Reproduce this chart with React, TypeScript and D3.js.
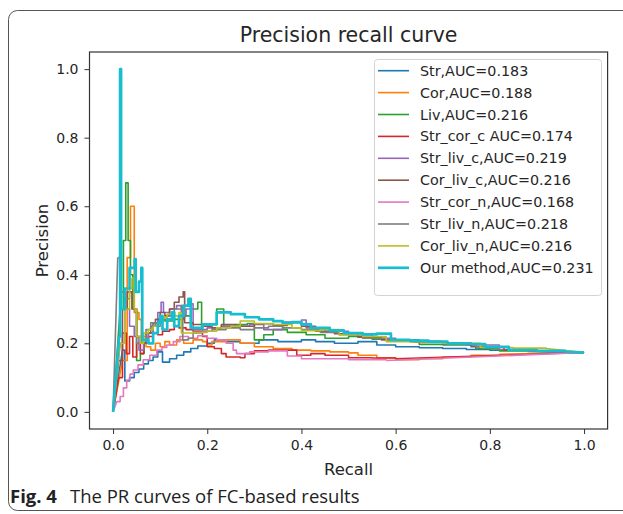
import React, { useEffect, useRef } from "react";
import * as d3 from "d3";

// legend labels and colours (matplotlib tab10)
const labels = [
  "Str,AUC=0.183",
  "Cor,AUC=0.188",
  "Liv,AUC=0.216",
  "Str_cor_c AUC=0.174",
  "Str_liv_c,AUC=0.219",
  "Cor_liv_c,AUC=0.216",
  "Str_cor_n,AUC=0.168",
  "Str_liv_n,AUC=0.218",
  "Cor_liv_n,AUC=0.216",
  "Our method,AUC=0.231",
];
const colors = ["#1f77b4", "#ff7f0e", "#2ca02c", "#d62728", "#9467bd", "#8c564b", "#e377c2", "#7f7f7f", "#bcbd22", "#17becf"];

const xTicks = [0, 0.2, 0.4, 0.6, 0.8, 1.0];
const yTicks = [0, 0.2, 0.4, 0.6, 0.8, 1.0];

// every curve starts at (0,0) and ends at (1, 0.173)
const startPt = [0, 0];
const endPt = [1.0, 0.173];

// [recall, precision] step points
const str = [[0.02,0.18],[0.025,0.09],[0.035,0.1],[0.045,0.115],[0.055,0.125],[0.065,0.14],[0.075,0.15],[0.085,0.16],[0.095,0.175],[0.105,0.145],[0.12,0.155],[0.135,0.165],[0.15,0.175],[0.165,0.185],[0.18,0.192],[0.2,0.2],[0.215,0.21],[0.24,0.205],[0.27,0.2],[0.31,0.21],[0.35,0.205],[0.4,0.21],[0.43,0.205],[0.47,0.2],[0.52,0.205],[0.56,0.195],[0.6,0.19],[0.65,0.187],[0.7,0.185],[0.75,0.182],[0.8,0.18],[0.9,0.177]];
const cor = [[0.02,0.15],[0.03,0.45],[0.037,0.6],[0.045,0.29],[0.055,0.27],[0.06,0.2],[0.07,0.19],[0.08,0.18],[0.09,0.2],[0.1,0.19],[0.11,0.205],[0.12,0.195],[0.135,0.21],[0.15,0.2],[0.17,0.21],[0.19,0.205],[0.2,0.195],[0.21,0.205],[0.24,0.21],[0.27,0.2],[0.3,0.19],[0.34,0.185],[0.38,0.18],[0.42,0.178],[0.46,0.175],[0.5,0.172],[0.52,0.165],[0.56,0.158],[0.6,0.152],[0.65,0.155],[0.7,0.16],[0.76,0.165],[0.82,0.168]];
const liv = [[0.015,0.3],[0.022,0.5],[0.027,0.668],[0.032,0.5],[0.037,0.4],[0.042,0.3],[0.05,0.15],[0.058,0.17],[0.066,0.2],[0.075,0.23],[0.085,0.26],[0.095,0.27],[0.11,0.265],[0.13,0.27],[0.15,0.28],[0.165,0.3],[0.18,0.32],[0.188,0.25],[0.205,0.255],[0.22,0.3],[0.235,0.25],[0.26,0.255],[0.285,0.258],[0.3,0.21],[0.32,0.225],[0.34,0.24],[0.37,0.232],[0.41,0.225],[0.45,0.215],[0.5,0.22],[0.55,0.212],[0.6,0.21],[0.65,0.197],[0.7,0.195],[0.77,0.185],[0.82,0.178],[0.88,0.176]];
const strCorC = [[0.012,0.1],[0.02,0.23],[0.028,0.17],[0.035,0.22],[0.042,0.16],[0.05,0.2],[0.058,0.17],[0.065,0.21],[0.075,0.22],[0.085,0.23],[0.095,0.225],[0.105,0.235],[0.12,0.24],[0.13,0.25],[0.14,0.245],[0.155,0.24],[0.17,0.235],[0.19,0.22],[0.2,0.19],[0.215,0.185],[0.23,0.17],[0.24,0.16],[0.27,0.158],[0.28,0.17],[0.3,0.178],[0.33,0.18],[0.36,0.18],[0.39,0.165],[0.42,0.17],[0.45,0.165],[0.5,0.158],[0.55,0.157],[0.6,0.155]];
const strLivC = [[0.015,0.2],[0.025,0.3],[0.035,0.25],[0.045,0.22],[0.055,0.18],[0.065,0.2],[0.075,0.23],[0.085,0.26],[0.095,0.29],[0.102,0.32],[0.107,0.29],[0.12,0.3],[0.135,0.31],[0.145,0.28],[0.155,0.3],[0.165,0.315],[0.17,0.24],[0.2,0.245],[0.23,0.25],[0.26,0.25],[0.29,0.255],[0.32,0.24],[0.36,0.262],[0.4,0.268],[0.41,0.245],[0.45,0.235],[0.5,0.225],[0.55,0.215],[0.6,0.21],[0.65,0.205],[0.7,0.2],[0.75,0.195],[0.82,0.182],[0.88,0.178]];
const corLivC = [[0.012,0.15],[0.02,0.3],[0.03,0.35],[0.04,0.3],[0.05,0.22],[0.06,0.2],[0.07,0.23],[0.08,0.25],[0.09,0.27],[0.1,0.29],[0.11,0.28],[0.12,0.3],[0.13,0.32],[0.14,0.335],[0.149,0.35],[0.152,0.26],[0.17,0.255],[0.19,0.25],[0.21,0.245],[0.23,0.255],[0.26,0.25],[0.3,0.257],[0.34,0.252],[0.37,0.26],[0.4,0.25],[0.43,0.235],[0.47,0.228],[0.52,0.218],[0.57,0.21],[0.63,0.205],[0.7,0.198],[0.76,0.19],[0.83,0.18],[0.9,0.177]];
const strCorN = [[0.008,0.03],[0.015,0.045],[0.022,0.07],[0.029,0.093],[0.036,0.11],[0.043,0.122],[0.053,0.137],[0.064,0.152],[0.078,0.165],[0.093,0.18],[0.104,0.188],[0.114,0.195],[0.128,0.205],[0.142,0.22],[0.16,0.215],[0.18,0.222],[0.2,0.215],[0.22,0.21],[0.24,0.2],[0.255,0.18],[0.262,0.17],[0.29,0.175],[0.33,0.178],[0.37,0.163],[0.4,0.155],[0.45,0.155],[0.5,0.152],[0.55,0.152],[0.58,0.15]];
const strLivN = [[0.01,0.45],[0.015,0.35],[0.025,0.33],[0.035,0.36],[0.045,0.3],[0.05,0.2],[0.06,0.22],[0.07,0.24],[0.08,0.26],[0.09,0.25],[0.1,0.27],[0.115,0.28],[0.13,0.3],[0.145,0.31],[0.148,0.21],[0.16,0.215],[0.17,0.23],[0.19,0.235],[0.21,0.24],[0.24,0.245],[0.27,0.24],[0.3,0.245],[0.33,0.25],[0.36,0.245],[0.4,0.24],[0.44,0.232],[0.48,0.225],[0.53,0.215],[0.58,0.21],[0.64,0.203],[0.7,0.198],[0.77,0.19],[0.84,0.182],[0.9,0.178]];
const corLivN = [[0.015,0.2],[0.025,0.3],[0.035,0.36],[0.04,0.39],[0.045,0.3],[0.05,0.22],[0.058,0.2],[0.065,0.23],[0.075,0.24],[0.085,0.25],[0.095,0.26],[0.105,0.275],[0.115,0.285],[0.13,0.28],[0.14,0.29],[0.145,0.23],[0.17,0.232],[0.2,0.235],[0.22,0.245],[0.25,0.25],[0.27,0.265],[0.3,0.258],[0.34,0.255],[0.38,0.245],[0.4,0.237],[0.44,0.24],[0.48,0.225],[0.53,0.22],[0.58,0.205],[0.64,0.205],[0.7,0.2],[0.78,0.188],[0.85,0.186],[0.92,0.185]];
const ourMethod = [[0.013,0.22],[0.015,1.0],[0.017,0.3],[0.025,0.36],[0.035,0.42],[0.046,0.446],[0.048,0.35],[0.055,0.38],[0.06,0.42],[0.062,0.21],[0.075,0.2],[0.085,0.23],[0.095,0.26],[0.1,0.28],[0.105,0.24],[0.115,0.27],[0.125,0.29],[0.13,0.25],[0.14,0.28],[0.15,0.31],[0.16,0.33],[0.165,0.245],[0.19,0.255],[0.22,0.29],[0.25,0.285],[0.28,0.276],[0.31,0.27],[0.34,0.265],[0.36,0.26],[0.38,0.262],[0.4,0.255],[0.42,0.245],[0.46,0.238],[0.49,0.23],[0.53,0.226],[0.56,0.228],[0.59,0.21],[0.63,0.208],[0.67,0.205],[0.71,0.2],[0.76,0.198],[0.79,0.19],[0.84,0.18],[0.9,0.178],[0.96,0.176]];

const curves = [str, cor, liv, strCorC, strLivC, corLivC, strCorN, strLivN, corLivN, ourMethod];

export default function App() {
  const svgRef = useRef(null);

  useEffect(() => {
    const w = 623;
    const h = 514;
    const svg = d3.select(svgRef.current).attr("width", w).attr("height", h);
    svg.selectAll("*").remove();

    // outer figure frame
    svg.append("rect")
      .attr("x", 8.5).attr("y", 10.5)
      .attr("width", 660).attr("height", 500)
      .attr("rx", 9)
      .attr("fill", "white")
      .attr("stroke", "#555")
      .attr("stroke-width", 1);

    // scales (matplotlib 5% margins)
    const x = d3.scaleLinear().domain([-0.05, 1.05]).range([89.5, 607.6]);
    const y = d3.scaleLinear().domain([-0.05, 1.05]).range([429, 52]);

    const font = "DejaVu Sans, sans-serif";
    const ink = "#262626";

    // title
    svg.append("text")
      .attr("x", (x.range()[0] + x.range()[1]) / 2).attr("y", 42)
      .attr("text-anchor", "middle")
      .attr("font-family", font).attr("font-size", 20.5)
      .attr("fill", ink)
      .text("Precision recall curve");

    // axes
    const xAxis = d3.axisBottom(x).tickValues(xTicks).tickFormat(d3.format(".1f")).tickSize(5).tickSizeOuter(0).tickPadding(6);
    const yAxis = d3.axisLeft(y).tickValues(yTicks).tickFormat(d3.format(".1f")).tickSize(5).tickSizeOuter(0).tickPadding(6);
    const gx = svg.append("g").attr("transform", `translate(0, ${y.range()[0]})`).call(xAxis);
    const gy = svg.append("g").attr("transform", `translate(${x.range()[0]}, 0)`).call(yAxis);
    [gx, gy].forEach((g) => {
      g.select(".domain").remove();
      g.selectAll("line").attr("stroke", "#333");
      g.selectAll("text").attr("font-family", font).attr("font-size", 14).attr("fill", ink);
    });

    // curves
    const step = d3.line().x((d) => x(d[0])).y((d) => y(d[1])).curve(d3.curveStepAfter);
    const lin = d3.line().x((d) => x(d[0])).y((d) => y(d[1]));
    svg.append("g")
      .selectAll("path")
      .data(curves)
      .enter()
      .append("path")
      .attr("fill", "none")
      .attr("stroke", (d, i) => colors[i])
      .attr("stroke-width", (d, i) => (i === 9 ? 2.7 : 1.6))
      .attr("stroke-linejoin", "round")
      .attr("d", (pts) => lin([startPt, pts[0]]) + step(pts) + lin([pts[pts.length - 1], endPt]));

    // spines
    svg.append("rect")
      .attr("x", x.range()[0]).attr("y", y.range()[1])
      .attr("width", x.range()[1] - x.range()[0])
      .attr("height", y.range()[0] - y.range()[1])
      .attr("fill", "none")
      .attr("stroke", "#333")
      .attr("stroke-width", 1.2);

    // axis labels
    svg.append("text")
      .attr("x", (x.range()[0] + x.range()[1]) / 2).attr("y", 475)
      .attr("text-anchor", "middle")
      .attr("font-family", font).attr("font-size", 16.5).attr("fill", ink)
      .text("Recall");
    svg.append("text")
      .attr("transform", `translate(48, ${(y.range()[0] + y.range()[1]) / 2}) rotate(-90)`)
      .attr("text-anchor", "middle")
      .attr("font-family", font).attr("font-size", 16.5).attr("fill", ink)
      .text("Precision");

    // legend
    const lg = svg.append("g");
    lg.append("rect")
      .attr("x", 374.5).attr("y", 59.5)
      .attr("width", 227).attr("height", 236)
      .attr("rx", 3)
      .attr("fill", "white").attr("fill-opacity", 0.8)
      .attr("stroke", "#d4d4d4");
    const items = lg.selectAll("g.item").data(labels).enter().append("g")
      .attr("class", "item")
      .attr("transform", (d, i) => `translate(0, ${70.7 + i * 21.9})`);
    items.append("line")
      .attr("x1", 378).attr("x2", 409)
      .attr("stroke", (d, i) => colors[i])
      .attr("stroke-width", (d, i) => (i === 9 ? 2.7 : 1.6));
    items.append("text")
      .attr("x", 420).attr("dy", "0.35em")
      .attr("font-family", font).attr("font-size", 14.3).attr("fill", ink)
      .text((d) => d);

    // caption
    const cap = svg.append("text").attr("x", 10).attr("y", 503)
      .attr("font-family", "Open Sans, sans-serif").attr("font-size", 18.5).attr("fill", "#222");
    cap.append("tspan").attr("font-weight", "bold").text("Fig. 4");
    cap.append("tspan").attr("x", 70).text("The PR curves of FC-based results");
  }, []);

  return (
    <div style={{ position: "absolute", left: 0, top: 0 }}>
      <svg ref={svgRef}></svg>
    </div>
  );
}
